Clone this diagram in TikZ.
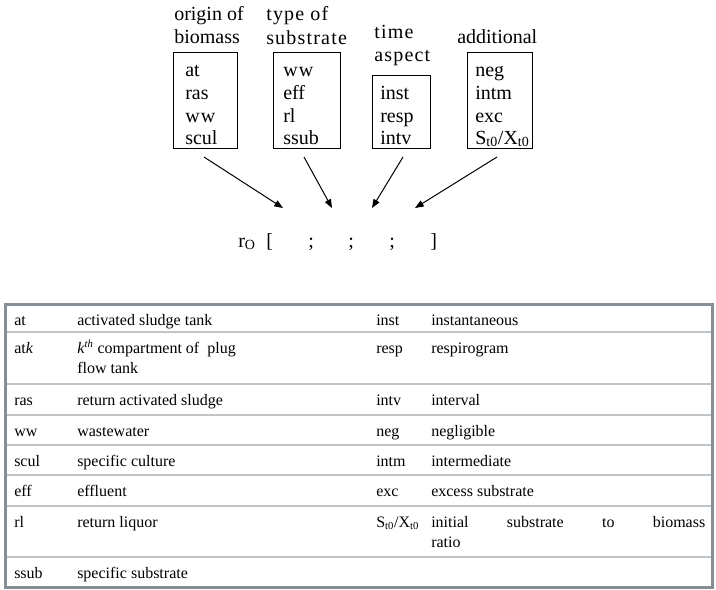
\documentclass[tikz,border=0pt]{standalone}
\usepackage{fontspec}
\setmainfont{Liberation Serif}
\newfontfamily\spacedserif[LetterSpace=6]{Liberation Serif}
\usetikzlibrary{arrows.meta}
\definecolor{tblframe}{RGB}{134,142,150}
\definecolor{tblrule}{RGB}{192,196,200}
\tikzset{
  lbl/.style={anchor=base west, inner sep=0pt, font=\fontsize{15}{17}\selectfont},
  catbox/.style={draw, line width=0.8pt, anchor=north west, inner sep=0pt},
  cell/.style={anchor=base west, inner sep=0pt, font=\fontsize{12}{14}\selectfont},
  pointer/.style={line width=0.75pt, -{Triangle[length=6.5pt,width=5pt]}},
}
\begin{document}
\begin{tikzpicture}[x=0.75pt,y=-0.75pt]
\useasboundingbox (0,0) rectangle (716,589);

% category headings
\node[lbl] (h1a) at (174,21) {origin of};
\node[lbl] (h1b) at (174,43) {biomass};
\node[lbl] (h2a) at (266,21) {\spacedserif type of};
\node[lbl] (h2b) at (266,44) {\spacedserif substrate};
\node[lbl] (h3a) at (374,38) {\spacedserif time};
\node[lbl] (h3b) at (374,61) {\spacedserif aspect};
\node[lbl] (h4a) at (457,43) {additional};

% category boxes
\node[catbox, minimum width=48pt,    minimum height=72pt]    (b1) at (173,52) {};
\node[catbox, minimum width=50.25pt, minimum height=72pt]    (b2) at (273,52) {};
\node[catbox, minimum width=43.5pt,  minimum height=54.75pt] (b3) at (372,75) {};
\node[catbox, minimum width=48.75pt, minimum height=72pt]    (b4) at (467,52) {};

% box entries
\node[lbl] (o1) at (185,76)  {at};
\node[lbl] (o2) at (185,99)  {ras};
\node[lbl] (o3) at (185,122) {\spacedserif ww};
\node[lbl] (o4) at (185,144) {scul};
\node[lbl] (s1t) at (283,76)  {\spacedserif ww};
\node[lbl] (s2t) at (283,99)  {eff};
\node[lbl] (s3t) at (283,122) {rl};
\node[lbl] (s4t) at (283,144) {ssub};
\node[lbl] (a1) at (380,99)  {inst};
\node[lbl] (a2) at (380,122) {resp};
\node[lbl] (a3) at (380,144) {intv};
\node[lbl] (d1) at (475,76)  {neg};
\node[lbl] (d2) at (475,99)  {intm};
\node[lbl] (d3) at (475,122) {exc};
\node[lbl] (d4) at (475,144) {S\textsubscript{t0}/X\textsubscript{t0}};

% rate symbol with its four slots
\node[lbl] (rO) at (238,247) {r\textsubscript{O}};
\node[lbl] (lb) at (266,247) {[};
\node[lbl] (sc1) at (308,247) {;};
\node[lbl] (sc2) at (348,247) {;};
\node[lbl] (sc3) at (389,247) {;};
\node[lbl] (rb) at (430,247) {]};

% arrow ends
\coordinate (p1) at (204,157);
\coordinate (p2) at (304,157);
\coordinate (p3) at (403,157);
\coordinate (p4) at (497,157);
\coordinate (q1) at (283,208);
\coordinate (q2) at (332,208);
\coordinate (q3) at (372,208);
\coordinate (q4) at (415,208);
\draw[pointer] (p1) -- (q1);
\draw[pointer] (p2) -- (q2);
\draw[pointer] (p3) -- (q3);
\draw[pointer] (p4) -- (q4);

% abbreviation table
\foreach \y in {332,384,415,445,475,506,557}
  \draw[tblrule, line width=1.1pt] (7,\y) -- (711,\y);
\draw[tblframe, line width=2.6pt] (5.5,304.5) rectangle (712.5,587.5);

\node[cell] (r1a) at (14,325)  {at};
\node[cell] (r1b) at (77,325)  {activated sludge tank};
\node[cell] (r1c) at (376,325) {inst};
\node[cell] (r1d) at (431,325) {instantaneous};

\node[cell] (r2a) at (14,353)  {at\textit{k}};
\node[cell] (r2b) at (77,353)  {\textit{k}\textsuperscript{\textit{th}} compartment of~ plug};
\node[cell] (r2e) at (77,373)  {flow tank};
\node[cell] (r2c) at (376,353) {resp};
\node[cell] (r2d) at (431,353) {respirogram};

\node[cell] (r3a) at (14,405)  {ras};
\node[cell] (r3b) at (77,405)  {return activated sludge};
\node[cell] (r3c) at (376,405) {intv};
\node[cell] (r3d) at (431,405) {interval};

\node[cell] (r4a) at (14,436)  {ww};
\node[cell] (r4b) at (77,436)  {wastewater};
\node[cell] (r4c) at (376,436) {neg};
\node[cell] (r4d) at (431,436) {negligible};

\node[cell] (r5a) at (14,466)  {scul};
\node[cell] (r5b) at (77,466)  {specific culture};
\node[cell] (r5c) at (376,466) {intm};
\node[cell] (r5d) at (431,466) {intermediate};

\node[cell] (r6a) at (14,496)  {eff};
\node[cell] (r6b) at (77,496)  {effluent};
\node[cell] (r6c) at (376,496) {exc};
\node[cell] (r6d) at (431,496) {excess substrate};

\node[cell] (r7a) at (14,527)  {rl};
\node[cell] (r7b) at (77,527)  {return liquor};
\node[cell] (r7c) at (376,527) {S\textsubscript{t0}/X\textsubscript{t0}};
\node[cell] (r7d) at (431,527) {\makebox[205.5pt][s]{initial substrate to biomass}};
\node[cell] (r7e) at (431,547) {ratio};

\node[cell] (r8a) at (14,578)  {ssub};
\node[cell] (r8b) at (77,578)  {specific substrate};
\end{tikzpicture}
\end{document}
